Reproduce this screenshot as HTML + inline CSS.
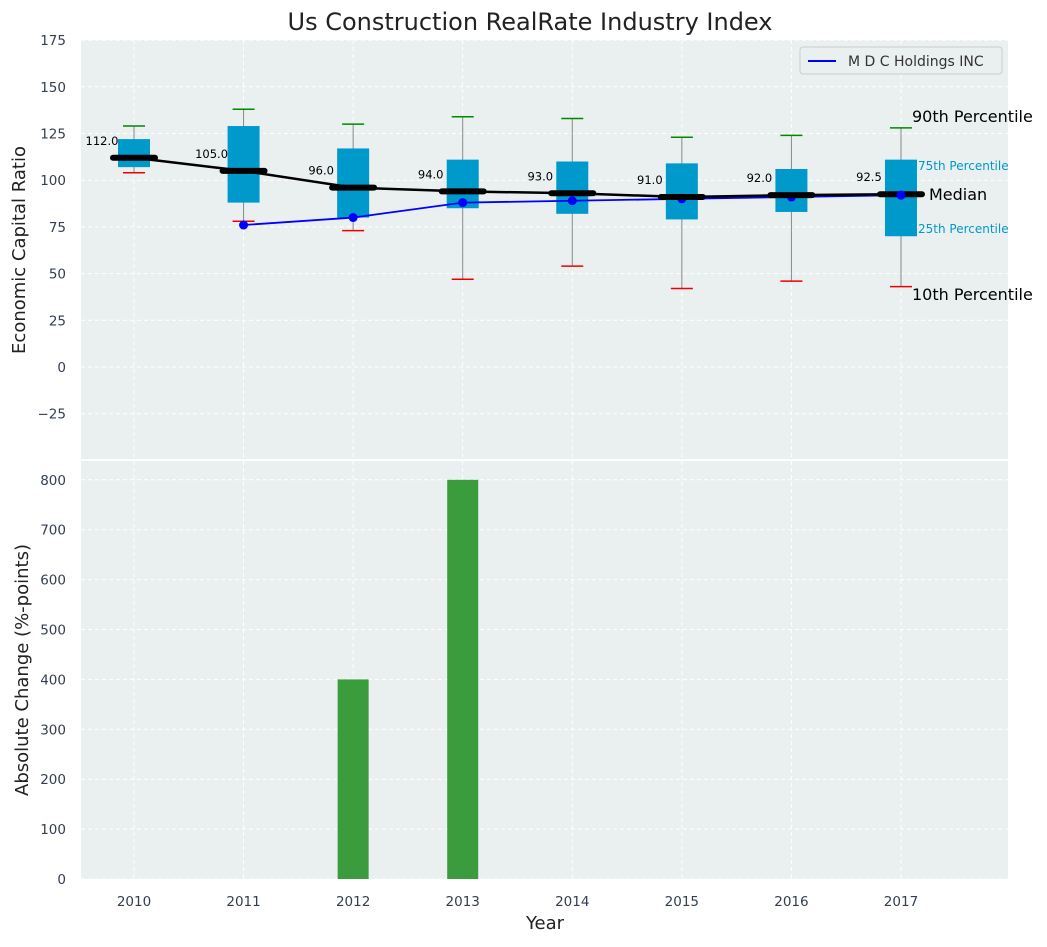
<!DOCTYPE html>
<html><head><meta charset="utf-8"><style>
body{margin:0;background:#fff;}
svg{font-family:"DejaVu Sans","Liberation Sans",sans-serif;}
</style></head><body>
<svg id="c" width="1047" height="942" xmlns="http://www.w3.org/2000/svg"></svg>
<script>
const years=[2010,2011,2012,2013,2014,2015,2016,2017];
const p10=[104,78,73,47,54,42,46,43];
const p25=[107,88,80,85,82,79,83,70];
const med=[112,105,96,94,93,91,92,92.5];
const p75=[122,129,117,111,110,109,106,111];
const p90=[129,138,130,134,133,123,124,128];
const mdcYears=[2011,2012,2013,2014,2015,2016,2017];
const mdcVals=[76,80,88,89,90,91,92];
const barVals=[0,0,400,800,0,0,0,0];
const topTicks=[-25,0,25,50,75,100,125,150,175];
const botTicks=[0,100,200,300,400,500,600,700,800];

const NS="http://www.w3.org/2000/svg";
const svg=document.getElementById('c');
function el(t,a,p){const e=document.createElementNS(NS,t);for(const k in a)e.setAttribute(k,a[k]);(p||svg).appendChild(e);return e;}
const L=81,R=1008,T1=40,B1=459,T2=461,B2=879;
const x=v=>134+(v-2010)*109.57;
const y1=v=>367-v*1.868;
const y2=v=>879-v*0.499;

let r=el('rect',{x:L,y:T1,width:R-L,height:B1-T1,fill:'#eaeff0'});

r=el('rect',{x:L,y:T2,width:R-L,height:B2-T2,fill:'#eaeff0'});


topTicks.forEach(t=>{
  el('line',{x1:L,x2:R,y1:y1(t),y2:y1(t),stroke:'#fff','stroke-dasharray':'4,3','stroke-width':1});
  const tx=el('text',{x:66,y:y1(t)+5,'text-anchor':'end','font-size':13.5,fill:'#333e50'});
  tx.textContent=t<0?'\u2212'+(-t):t;
  
});
botTicks.forEach(t=>{
  el('line',{x1:L,x2:R,y1:y2(t),y2:y2(t),stroke:'#fff','stroke-dasharray':'4,3','stroke-width':1});
  const tx=el('text',{x:66,y:y2(t)+5,'text-anchor':'end','font-size':13.5,fill:'#333e50'});
  tx.textContent=t;
  
});
years.forEach(yr=>{
  el('line',{x1:x(yr),x2:x(yr),y1:T1,y2:B1,stroke:'#fff','stroke-dasharray':'4,3'});
  el('line',{x1:x(yr),x2:x(yr),y1:T2,y2:B2,stroke:'#fff','stroke-dasharray':'4,3'});
  const tx=el('text',{x:x(yr),y:906,'text-anchor':'middle','font-size':13.5,fill:'#333e50'});
  tx.textContent=yr;
  
});

years.forEach((yr,i)=>{
  const cx=x(yr);
  el('line',{x1:cx,x2:cx,y1:y1(p10[i]),y2:y1(p90[i]),stroke:'#888','stroke-width':1});
  const b=el('rect',{x:cx-16,y:y1(p75[i]),width:32,height:y1(p25[i])-y1(p75[i]),fill:'#0099cc'});
  
  el('line',{x1:cx-11,x2:cx+11,y1:y1(p10[i]),y2:y1(p10[i]),stroke:'#e00','stroke-width':1.5});
  el('line',{x1:cx-11,x2:cx+11,y1:y1(p90[i]),y2:y1(p90[i]),stroke:'#080','stroke-width':1.5});
});
// MDC line (below medians)
let pts=mdcYears.map((yr,i)=>x(yr)+','+y1(mdcVals[i])).join(' ');
let pl=el('polyline',{points:pts,fill:'none',stroke:'#00f','stroke-width':1.8});

mdcYears.forEach((yr,i)=>{
  const c=el('circle',{cx:x(yr),cy:y1(mdcVals[i]),r:4.5,fill:'#00f'});
  
});
pts=years.map((yr,i)=>x(yr)+','+y1(med[i])).join(' ');
pl=el('polyline',{points:pts,fill:'none',stroke:'#000','stroke-width':2.5});

years.forEach((yr,i)=>{
  const m=el('line',{x1:x(yr)-21,x2:x(yr)+21,y1:y1(med[i]),y2:y1(med[i]),stroke:'#000','stroke-width':6,'stroke-linecap':'round'});
  
  const t=el('text',{x:x(yr)-32,y:y1(med[i])-13,'text-anchor':'middle','font-size':11.5,fill:'#000'});
  t.textContent=med[i].toFixed(1);
  
});
// blue dot at 2017 drawn over median as in reference
const last=mdcYears.length-1;
let c2=el('circle',{cx:x(mdcYears[last]),cy:y1(mdcVals[last]),r:4.5,fill:'#00f'});


years.forEach((yr,i)=>{
  if(!barVals[i])return;
  const b=el('rect',{x:x(yr)-15.5,y:y2(barVals[i]),width:31,height:y2(0)-y2(barVals[i]),fill:'#3a9c3c'});
  
});
const ann=[[912,122,'90th Percentile',16,'#000'],[918,170,'75th Percentile',12,'#0099cc'],[929,200,'Median',16,'#000'],[918,233,'25th Percentile',12,'#0099cc'],[912,300,'10th Percentile',16,'#000']];
ann.forEach(a=>{const t=el('text',{x:a[0],y:a[1],'font-size':a[3],fill:a[4]});t.textContent=a[2];
});
const lg=el('g',{});
el('rect',{x:800,y:47,width:202,height:27,rx:3,fill:'#eaeff0',stroke:'#ccc'},lg);
el('line',{x1:808,x2:836,y1:61,y2:61,stroke:'#00f','stroke-width':2},lg);
let t=el('text',{x:848,y:66,'font-size':14,fill:'#333'},lg);t.textContent='M D C Holdings INC';
t=el('text',{x:530,y:30,'text-anchor':'middle','font-size':24,fill:'#222'});t.textContent='Us Construction RealRate Industry Index';

t=el('text',{x:545,y:929,'text-anchor':'middle','font-size':18,fill:'#222'});t.textContent='Year';

t=el('text',{x:0,y:0,'text-anchor':'middle','font-size':18,fill:'#222',transform:'translate(25,250) rotate(-90)'});t.textContent='Economic Capital Ratio';

t=el('text',{x:0,y:0,'text-anchor':'middle','font-size':18,fill:'#222',transform:'translate(28,670) rotate(-90)'});t.textContent='Absolute Change (%-points)';

</script>
</body></html>
